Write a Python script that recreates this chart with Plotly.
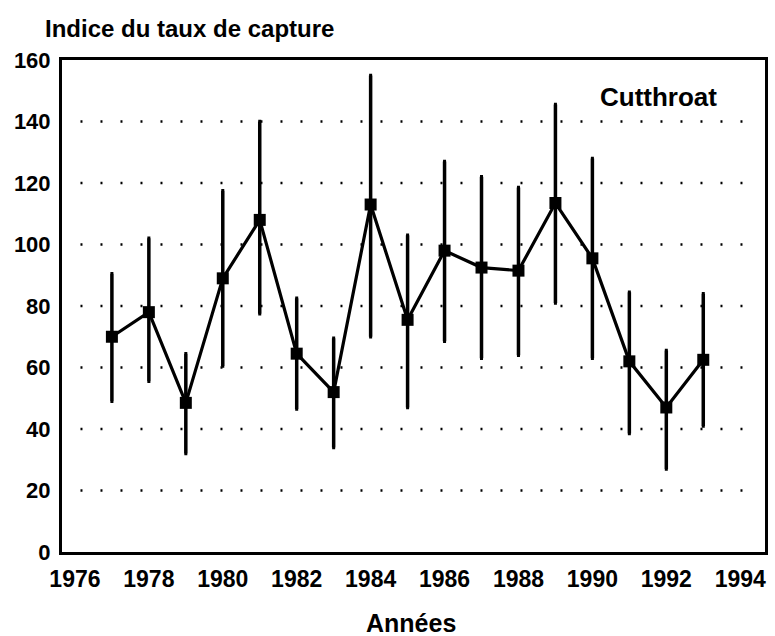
import plotly.graph_objects as go

years = [1977, 1978, 1979, 1980, 1981, 1982, 1983, 1984, 1985,
         1986, 1987, 1988, 1989, 1990, 1991, 1992, 1993]
index_values = [70, 78, 48.5, 89, 108, 64.5, 52, 113, 75.5,
                98, 92.5, 91.5, 113.5, 95.5, 62, 47, 62.5]
upper_limit = [90.5, 102, 64.5, 117.5, 140, 82.5, 69.5, 155, 103,
               127, 122, 118.5, 145.5, 128, 84.5, 65.5, 84]
lower_limit = [49, 55.5, 32, 60.5, 77.5, 46.5, 34, 70, 47,
               68.5, 63, 64, 81, 63, 38.5, 27, 41]
grid_levels = [20, 40, 60, 80, 100, 120, 140]
x_ticks = [1976, 1978, 1980, 1982, 1984, 1986, 1988, 1990, 1992, 1994]
y_ticks = [0, 20, 40, 60, 80, 100, 120, 140, 160]

err_plus = [u - v for u, v in zip(upper_limit, index_values)]
err_minus = [v - l for v, l in zip(index_values, lower_limit)]

FONT = "Liberation Sans, Arial, sans-serif"

fig = go.Figure()
fig.add_trace(go.Scatter(
    x=years, y=index_values, mode="lines+markers",
    line=dict(color="black", width=3.2),
    marker=dict(symbol="square", size=12, color="black"),
    error_y=dict(type="data", symmetric=False, array=err_plus,
                 arrayminus=err_minus, color="black", thickness=3.5, width=1.5),
    showlegend=False, hoverinfo="skip",
))

for g in grid_levels:
    fig.add_shape(type="line", xref="x", yref="y", x0=1976.15, x1=1994.4,
                  y0=g, y1=g, layer="below",
                  line=dict(color="black", width=2.5, dash="2px,18px"))

fig.update_layout(
    width=775, height=636,
    margin=dict(l=62, r=7, t=60, b=84),
    paper_bgcolor="white", plot_bgcolor="white",
    font=dict(family=FONT, color="black"),
    xaxis=dict(range=[1975.65, 1994.67], tickvals=x_ticks,
               ticktext=[str(t) for t in x_ticks],
               showgrid=False, zeroline=False, showline=True, mirror=True,
               linecolor="black", linewidth=3, ticks="",
               tickfont=dict(family=FONT, size=23, color="black", weight="bold"),
               ticklabelstandoff=4),
    yaxis=dict(range=[0, 160], tickvals=y_ticks,
               showgrid=False, zeroline=False, showline=True, mirror=True,
               linecolor="black", linewidth=3, ticks="",
               tickfont=dict(family=FONT, size=22, color="black", weight="bold"),
               ticklabelstandoff=4),
    annotations=[
        dict(text="<b>Indice du taux de capture</b>", xref="paper", yref="paper",
             x=-0.027, y=1.065, xanchor="left", yanchor="middle", showarrow=False,
             font=dict(family=FONT, size=24, color="black")),
        dict(text="<b>Années</b>", xref="paper", yref="paper",
             x=0.496, y=-0.144, xanchor="center", yanchor="middle", showarrow=False,
             font=dict(family=FONT, size=25, color="black")),
        dict(text="<b>Cutthroat</b>", xref="paper", yref="paper",
             x=0.848, y=0.925, xanchor="center", yanchor="middle", showarrow=False,
             font=dict(family=FONT, size=26, color="black")),
    ],
)

fig.write_html("out.html", config={"displayModeBar": False},
               post_script="document.body.style.margin='0';document.body.style.overflow='hidden';")
